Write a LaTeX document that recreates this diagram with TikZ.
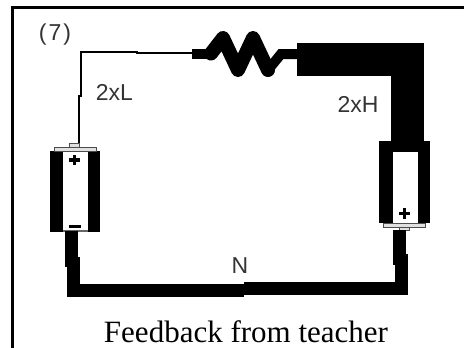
\documentclass[tikz,border=0pt]{standalone}
\usepackage{fontspec}
\setmainfont{Liberation Serif}
\newfontfamily\labelfont{Liberation Sans}
\tikzset{
  wall/.style={rectangle, fill, inner sep=0pt},
  lid/.style={rectangle, draw=black!70, line width=1pt, fill=black!12, inner sep=0pt},
  lbl/.style={anchor=base, inner sep=0pt, text=black!80, font=\labelfont\fontsize{23}{23}\selectfont}
}
\begin{document}
\begin{tikzpicture}[x=1pt,y=-1pt]
\useasboundingbox (0,0) rectangle (464,348);
% frame
\coordinate (fbot) at (12.5,348);
\coordinate (fcorner) at (12.5,7.5);
\coordinate (fright) at (464,7.5);
\draw[line width=3pt] (fbot) -- (fcorner) -- (fright);
% left battery
\node[wall, minimum width=13pt, minimum height=81pt] (lwall1) at (56.5,191.5){};
\node[wall, minimum width=12pt, minimum height=81pt] (lwall2) at (94,191.5){};
\node[wall, fill=black!60, minimum width=25pt, minimum height=1.5pt] (lfloor) at (75.5,231.2){};
\node[lid, minimum width=42pt, minimum height=4pt] (lcap) at (75,149){};
\node[lid, minimum width=10pt, minimum height=4pt] (lterm) at (74,145){};
\node[wall, minimum width=11pt, minimum height=3.5pt] (lplush) at (74.5,160){};
\node[wall, minimum width=3.5pt, minimum height=10pt] (lplusv) at (74.5,160){};
\node[wall, minimum width=12pt, minimum height=3pt] (lminus) at (75,226.5){};
% right battery
\node[wall, minimum width=14pt, minimum height=82pt] (rwall1) at (386,182){};
\node[wall, minimum width=12pt, minimum height=82pt] (rwall2) at (424,182){};
\node[wall, minimum width=51pt, minimum height=11pt] (rtop) at (404.5,146.5){};
\node[lid, minimum width=42pt, minimum height=4pt] (rcap) at (404.5,225){};
\node[lid, minimum width=10pt, minimum height=3.5pt] (rterm) at (404,228.8){};
\node[wall, minimum width=11pt, minimum height=3.5pt] (rplush) at (404.5,213.5){};
\node[wall, minimum width=3.5pt, minimum height=11pt] (rplusv) at (404.5,213.5){};
% thin wire
\coordinate (a1) at (79,143);
\coordinate (a2) at (79,96);
\coordinate (a3) at (81,96);
\coordinate (a4) at (81,52);
\coordinate (a5) at (137,52);
\coordinate (a6) at (137,53);
\coordinate (a7) at (192,53);
\draw[line width=1.8pt] (a1) -- (a2) -- (a3) -- (a4) -- (a5) -- (a6) -- (a7);
% resistor
\coordinate (res1) at (192,53.5);
\coordinate (res2) at (211,53.5);
\coordinate (res3) at (223,38);
\coordinate (res4) at (238,70);
\coordinate (res5) at (253,38);
\coordinate (res6) at (268,70);
\coordinate (res7) at (281,54);
\coordinate (res8) at (297,54);
\draw[line width=10pt] (res1) -- (res2);
\draw[line width=14pt, line join=round, line cap=round] (res2) -- (res3) -- (res4) -- (res5) -- (res6);
\draw[line width=10pt] (res6) -- (res7) -- (res8);
% thick wire
\coordinate (h1) at (297,59.5);
\coordinate (h2) at (407.5,59.5);
\coordinate (h3) at (407.5,141);
\draw[line width=33pt] (h1) -- (h2) -- (h3);
% bottom wire
\coordinate (n1) at (399.5,230);
\coordinate (n2) at (399.5,265);
\coordinate (n3) at (401.5,254);
\coordinate (n4) at (401.5,288.5);
\coordinate (n5) at (244,288.5);
\coordinate (n6) at (244,290.5);
\coordinate (n7) at (73.5,290.5);
\coordinate (n8) at (73.5,257);
\coordinate (n9) at (71.5,267);
\coordinate (n10) at (71.5,231);
\draw[line width=13pt] (n1) -- (n2);
\draw[line width=13pt] (n3) -- (n4) -- (n5);
\draw[line width=13pt] (n6) -- (n7) -- (n8);
\draw[line width=13pt] (n9) -- (n10);
% labels
\node[lbl] (seven) at (55,41){(\kern2pt 7\kern2pt)};
\node[lbl] (low) at (114.5,100){2xL};
\node[lbl] (high) at (358,112){2xH};
\node[lbl] (neutral) at (240,273){N};
\node[anchor=base, inner sep=0pt, font=\fontsize{31}{31}\selectfont] (caption) at (246,342){Feedback from teacher};
\end{tikzpicture}
\end{document}
